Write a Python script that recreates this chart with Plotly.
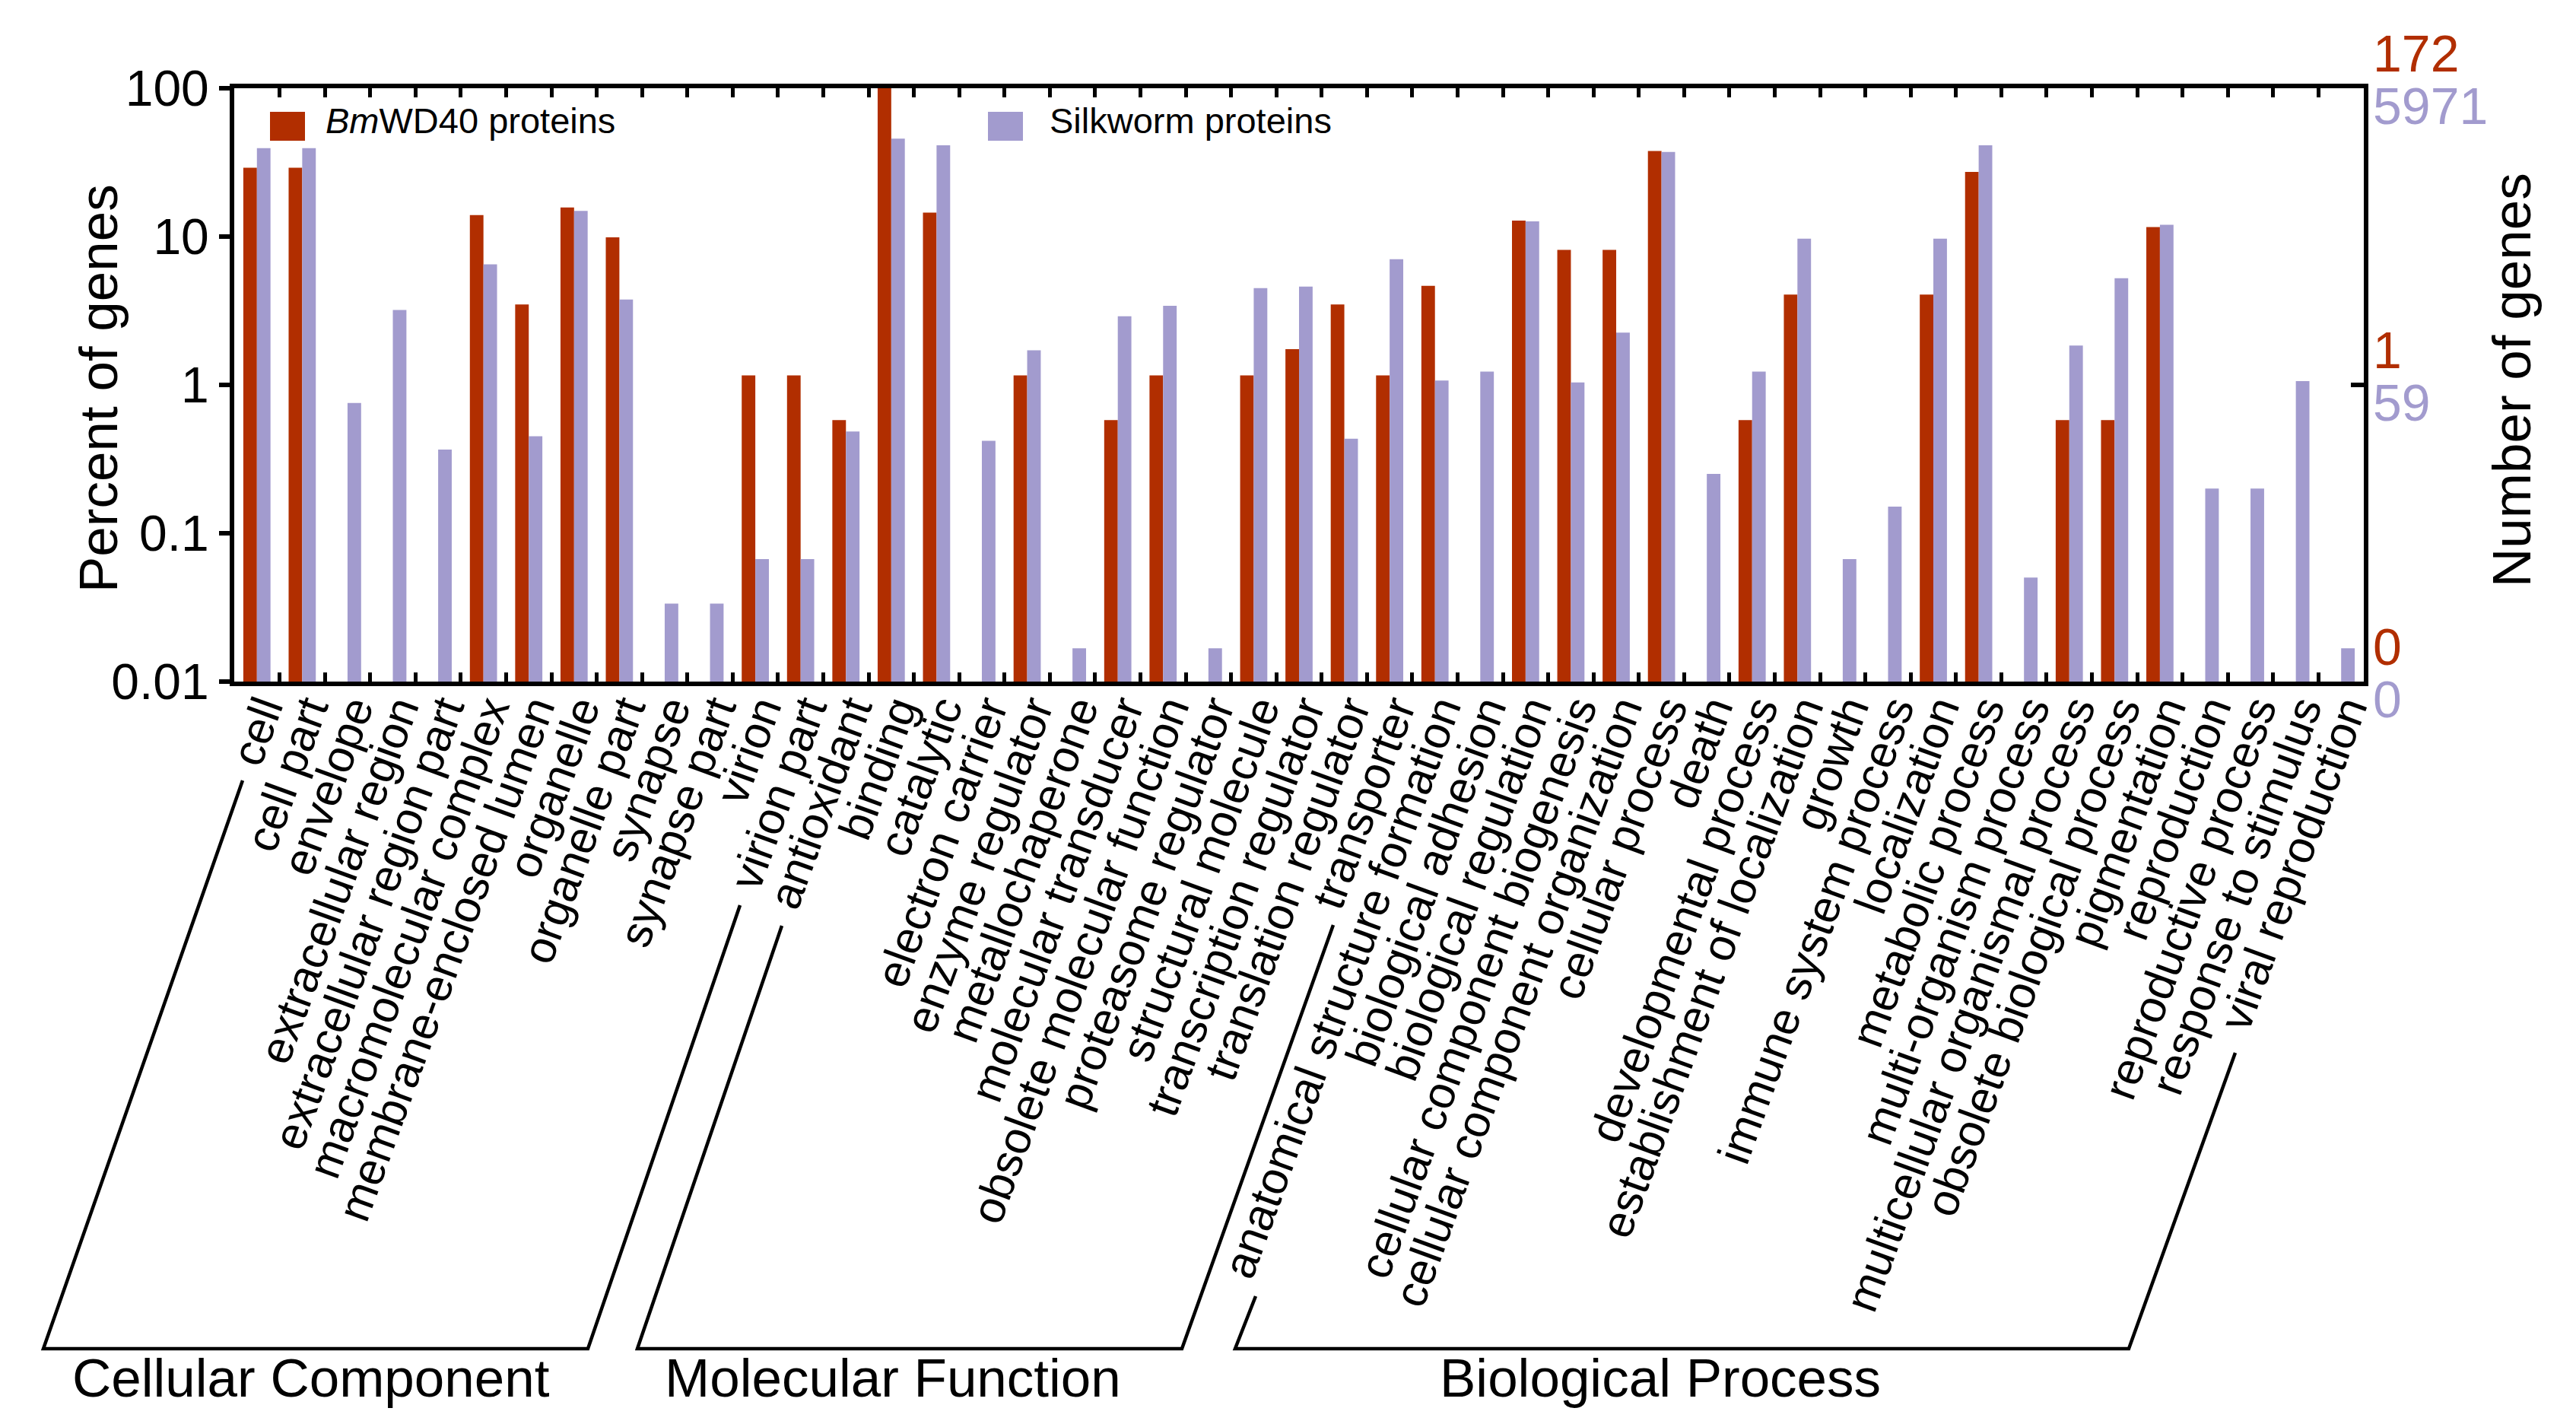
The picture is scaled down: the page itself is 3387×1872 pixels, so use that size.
import math
import plotly.graph_objects as go

categories = [
    "cell", "cell part", "envelope", "extracellular region", "extracellular region part",
    "macromolecular complex", "membrane-enclosed lumen", "organelle", "organelle part",
    "synapse", "synapse part", "virion", "virion part",
    "antioxidant", "binding", "catalytic", "electron carrier", "enzyme regulator",
    "metallochaperone", "molecular transducer", "obsolete molecular function",
    "proteasome regulator", "structural molecule", "transcription regulator",
    "translation regulator", "transporter",
    "anatomical structure formation", "biological adhesion", "biological regulation",
    "cellular component biogenesis", "cellular component organization", "cellular process",
    "death", "developmental process", "establishment of localization", "growth",
    "immune system process", "localization", "metabolic process", "multi-organism process",
    "multicellular organismal process", "obsolete biological process", "pigmentation",
    "reproduction", "reproductive process", "response to stimulus", "viral reproduction",
]

# Percent of genes (None = no genes in that category)
bmwd40_pct = [
    29.1, 29.1, None, None, None, 13.95, 3.49, 15.7, 9.88, None, None, 1.16, 1.16,
    0.58, 100.0, 14.5, None, 1.16, None, 0.58, 1.16, None, 1.16, 1.74, 3.49, 1.16,
    4.65, None, 12.8, 8.14, 8.14, 37.8, None, 0.58, 4.07, None, None, 4.07, 27.3,
    None, 0.58, 0.58, 11.6, None, None, None, None,
]
silkworm_pct = [
    39.5, 39.5, 0.755, 3.2, 0.366, 6.5, 0.45, 14.9, 3.76, 0.0335, 0.0335, 0.067, 0.067,
    0.485, 45.8, 41.3, 0.42, 1.71, 0.01675, 2.9, 3.41, 0.01675, 4.49, 4.6, 0.434, 7.03,
    1.07, 1.23, 12.65, 1.04, 2.25, 37.2, 0.251, 1.23, 9.67, 0.067, 0.151, 9.69, 41.3,
    0.0502, 1.84, 5.24, 12.0, 0.2, 0.2, 1.06, 0.01675,
]

y_tickvals = [0.01, 0.1, 1, 10, 100]
y_ticktext = ["0.01", "0.1", "1", "10", "100"]

# right-axis gene counts at 100 %, 1 % and 0.01 %
right_levels = [100, 1, 0.01]
bmwd40_counts = ["172", "1", "0"]
silkworm_counts = ["5971", "59", "0"]

groups = ["Cellular Component", "Molecular Function", "Biological Process"]

RED = "#B12E00"
PURPLE = "#A29BCE"
FONT = "Liberation Sans, Arial, sans-serif"

W, H = 3387, 1872
L, R, T, B = 300, 287, 108, 984
PW = W - L - R
PH = H - T - B


def px(x):
    return (x - L) / PW


def py(y):
    return (H - B - y) / PH


fig = go.Figure()
fig.add_trace(go.Bar(x=categories, y=bmwd40_pct, marker=dict(color=RED, line=dict(width=0)),
                     name="BmWD40 proteins", showlegend=False))
fig.add_trace(go.Bar(x=categories, y=silkworm_pct, marker=dict(color=PURPLE, line=dict(width=0)),
                     name="Silkworm proteins", showlegend=False))

annotations = []
for lvl, rc, pc in zip(right_levels, bmwd40_counts, silkworm_counts):
    annotations.append(dict(x=1, xref="paper", y=math.log10(lvl), yref="y", xanchor="left",
                            yanchor="middle", xshift=10, yshift=46, text=rc, showarrow=False,
                            font=dict(family=FONT, size=68, color=RED)))
    annotations.append(dict(x=1, xref="paper", y=math.log10(lvl), yref="y", xanchor="left",
                            yanchor="middle", xshift=10, yshift=-23, text=pc, showarrow=False,
                            font=dict(family=FONT, size=68, color=PURPLE)))

annotations.append(dict(x=px(121), y=py(503), xref="paper", yref="paper", text="Percent of genes",
                        xanchor="center", yanchor="middle",
                        textangle=-90, showarrow=False, font=dict(family=FONT, size=71, color="black")))
annotations.append(dict(x=px(3294), y=py(492), xref="paper", yref="paper", text="Number of genes",
                        xanchor="center", yanchor="middle",
                        textangle=-90, showarrow=False, font=dict(family=FONT, size=71, color="black")))

# legend
annotations.append(dict(x=px(418), y=py(150), xref="paper", yref="paper", xanchor="left",
                        yanchor="middle", text="<i>Bm</i>WD40 proteins", showarrow=False,
                        font=dict(family=FONT, size=47, color="black")))
annotations.append(dict(x=px(1370), y=py(150), xref="paper", yref="paper", xanchor="left",
                        yanchor="middle", text="Silkworm proteins", showarrow=False,
                        font=dict(family=FONT, size=47, color="black")))

group_centers = [401, 1166, 2175]
for g, cx in zip(groups, group_centers):
    annotations.append(dict(x=px(cx), y=py(1803), xref="paper", yref="paper", text=g,
                            xanchor="center", yanchor="middle",
                            showarrow=False, font=dict(family=FONT, size=71, color="black")))

shapes = []
shapes.append(dict(type="rect", xref="paper", yref="paper", x0=px(347), x1=px(393),
                   y0=py(177), y1=py(139), fillcolor=RED, line=dict(width=0)))
shapes.append(dict(type="rect", xref="paper", yref="paper", x0=px(1291), x1=px(1337),
                   y0=py(177), y1=py(139), fillcolor=PURPLE, line=dict(width=0)))
shapes.append(dict(type="line", xref="paper", yref="paper", x0=px(3083), x1=1,
                   y0=0.5, y1=0.5, line=dict(color="black", width=6)))

brackets = [
    [(311, 1018), (49, 1765), (765, 1765), (965, 1182)],
    [(1020, 1209), (830, 1765), (1546, 1765), (1745, 1208)],
    [(1643, 1696), (1616, 1765), (2791, 1765), (2931, 1376)],
]
for br in brackets:
    path = "M " + " L ".join(f"{px(x):.5f},{py(y):.5f}" for x, y in br)
    shapes.append(dict(type="path", xref="paper", yref="paper", path=path,
                       line=dict(color="black", width=4.5)))

fig.update_layout(
    width=W, height=H,
    margin=dict(l=L, r=R, t=T, b=B, pad=0),
    paper_bgcolor="white", plot_bgcolor="white",
    barmode="group", bargap=0.4, bargroupgap=0,
    showlegend=False,
    annotations=annotations, shapes=shapes,
    xaxis=dict(type="category", categoryorder="array", categoryarray=categories,
               tickmode="linear", tick0=0, dtick=1,
               tickangle=-70, tickfont=dict(family=FONT, size=60, color="black"),
               ticklabelstandoff=-28, ticklabelshift=7,
               ticks="inside", tickson="boundaries", ticklen=12, tickwidth=5, tickcolor="black",
               showline=True, linewidth=6, linecolor="black", mirror="ticks",
               showgrid=False, zeroline=False, range=[-0.5, len(categories) - 0.5]),
    yaxis=dict(type="log", range=[-2, 2], tickvals=y_tickvals, ticktext=y_ticktext,
               tickfont=dict(family=FONT, size=66, color="black"),
               ticks="outside", ticklen=14, tickwidth=6, tickcolor="black",
               showline=True, linewidth=6, linecolor="black", mirror=True,
               showgrid=False, zeroline=False),
)

fig.write_html("out.html")
